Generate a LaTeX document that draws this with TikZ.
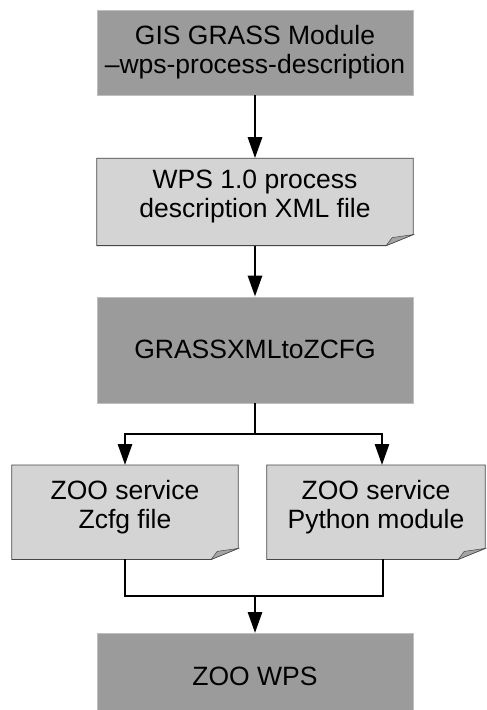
\documentclass[tikz,border=0pt]{standalone}
\usepackage{fontspec}
\setmainfont{Liberation Sans}
\usetikzlibrary{positioning,arrows.meta,backgrounds}
\definecolor{boxdark}{RGB}{155,155,155}
\definecolor{boxrim}{RGB}{190,190,190}
\definecolor{boxlight}{RGB}{212,212,212}
\definecolor{boxedge}{RGB}{70,70,70}
\definecolor{flapgray}{RGB}{165,165,165}

\begin{document}
\begin{tikzpicture}[x=1pt, y=1pt, >={Triangle[length=21pt,width=14pt]}]
    \tikzstyle{block} = [rectangle, draw=boxrim, fill=boxdark, minimum width=316pt, minimum height=85pt, inner sep=0pt, align=center, font=\fontsize{26.5}{29}\selectfont]
    \tikzstyle{docbox} = [block, draw=none, fill=none, minimum height=77pt]
    \tikzstyle{line} = [draw, line width=2.8pt, black]

    \useasboundingbox (0,0) rectangle (487,-710);

    \node [block] (gis) at (255,-52.5) {GIS GRASS Module\\–wps-process-description};
    \node [docbox, below=63pt of gis] (wpsxml) {WPS 1.0 process\\description XML file};
    \node [block, minimum height=106pt, below=61pt of wpsxml] (converter) {GRASSXMLtoZCFG};
    \node [docbox, minimum width=226pt, minimum height=84pt, below=62pt of converter, xshift=-130pt] (zcfg) {ZOO service\\Zcfg file};
    \node [docbox, minimum width=218pt, minimum height=84pt, below=62pt of converter, xshift=121pt] (pymod) {ZOO service\\Python module};
    \node [block, minimum height=86pt, below=230pt of converter] (zoowps) {ZOO WPS};

    % page outline with folded corner, 10pt below the text box
    \begin{scope}[on background layer]
    \foreach \n in {wpsxml,zcfg,pymod} {
        \filldraw [fill=boxlight, draw=boxedge, line width=0.8pt] (\n.north west) -- (\n.north east) -- ([yshift=1pt]\n.south east) -- ([xshift=-27pt,yshift=-10pt]\n.south east) -- ([yshift=-10pt]\n.south west) -- cycle;
        \filldraw [fill=flapgray, draw=boxedge, line width=0.5pt] ([xshift=-27pt,yshift=-10pt]\n.south east) -- ([xshift=-21pt,yshift=-2pt]\n.south east) -- ([yshift=1pt]\n.south east) -- cycle;
    }
    \end{scope}

    \coordinate (split) at ([yshift=-31pt]converter.south);
    \coordinate (join) at ([yshift=37pt]zoowps.north);

    \path [line,->] (gis) -- (wpsxml);
    \path [line,->] ([yshift=-10pt]wpsxml.south) -- (converter);
    \path [line] (converter) -- (split);
    \path [line,->] (split) -| (zcfg);
    \path [line,->] (split) -| ([xshift=6pt]pymod.north);
    \path [line] ([yshift=-10pt]zcfg.south) |- (join);
    \path [line] ([xshift=7pt,yshift=-10pt]pymod.south) |- (join);
    \path [line,->] (join) -- (zoowps);
\end{tikzpicture}
\end{document}
